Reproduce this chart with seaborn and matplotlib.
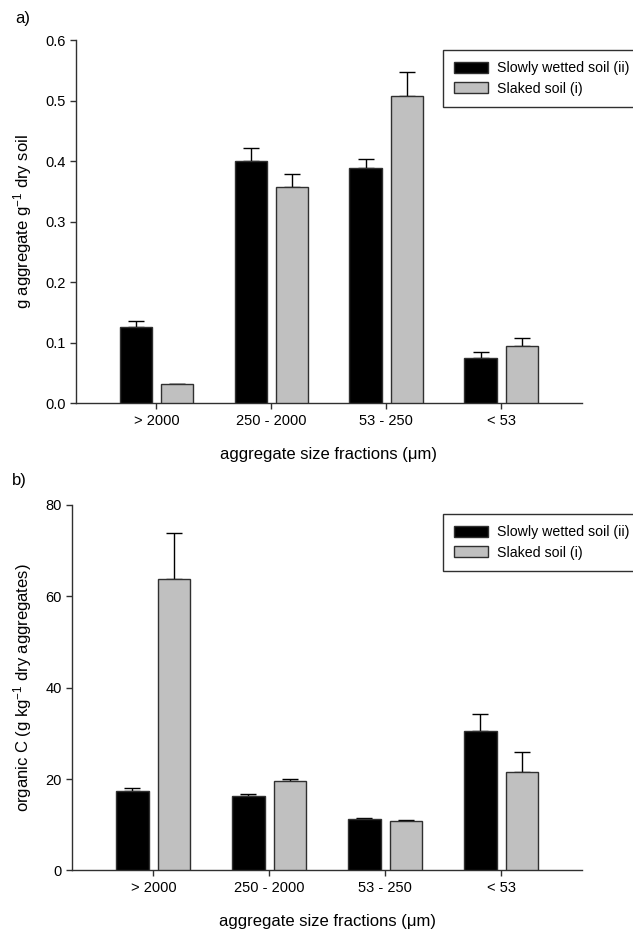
import matplotlib
matplotlib.use("Agg")
import matplotlib.pyplot as plt
import numpy as np
import pandas as pd
import seaborn as sns

fractions = ['> 2000', '250 - 2000', '53 - 250', '< 53']
treatments = ['Slowly wetted soil (ii)', 'Slaked soil (i)']

# a) aggregate mass (g aggregate / g dry soil)
mass_wet = [0.125, 0.400, 0.388, 0.074]
mass_wet_err = [0.010, 0.022, 0.015, 0.011]
mass_slaked = [0.032, 0.357, 0.508, 0.095]
mass_slaked_err = [0.0, 0.022, 0.040, 0.013]

# b) organic C (g/kg dry aggregates)
oc_wet = [17.3, 16.3, 11.2, 30.6]
oc_wet_err = [0.8, 0.4, 0.3, 3.6]
oc_slaked = [63.7, 19.6, 10.9, 21.5]
oc_slaked_err = [10.0, 0.4, 0.1, 4.5]

sns.set_style("ticks")
plt.rcParams['font.family'] = ['Liberation Sans', 'DejaVu Sans']
plt.rcParams['mathtext.fontset'] = 'custom'
plt.rcParams['mathtext.rm'] = 'Liberation Sans'
plt.rcParams['mathtext.it'] = 'Liberation Sans:italic'
plt.rcParams['text.color'] = 'black'
plt.rcParams['axes.labelcolor'] = 'black'

edge = '#303030'
colors = ['#000000', '#c0c0c0']


def long_table(v1, v2):
    return pd.DataFrame({
        'fraction': fractions * 2,
        'treatment': [treatments[0]] * 4 + [treatments[1]] * 4,
        'value': list(v1) + list(v2),
    })


def panel(ax, df, errs, ylim, yticks, yfmt, ylabel):
    sns.barplot(data=df, x='fraction', y='value', hue='treatment',
                order=fractions, hue_order=treatments, palette=colors,
                width=0.72, gap=0.22, errorbar=None, edgecolor=edge,
                linewidth=1.0, saturation=1, ax=ax, zorder=3)
    for cont, err in zip(ax.containers, errs):
        xs = [b.get_x() + b.get_width() / 2 for b in cont]
        ys = [b.get_height() for b in cont]
        ax.errorbar(xs, ys, yerr=[np.zeros(len(err)), err], fmt='none',
                    ecolor='black', elinewidth=1.0, capsize=6, capthick=1.0,
                    zorder=2)
    ax.set_xlim(-0.7, 3.7)
    ax.set_ylim(*ylim)
    ax.set_yticks(yticks)
    ax.set_yticklabels([yfmt.format(t) for t in yticks])
    ax.set_xlabel('aggregate size fractions (μm)', fontsize=12, labelpad=14)
    ax.set_ylabel(ylabel, fontsize=12, labelpad=8)
    ax.tick_params(axis='both', labelsize=10.5, length=4, width=1.0,
                   color=edge, labelcolor='black', direction='out')
    for s in ['top', 'right']:
        ax.spines[s].set_visible(False)
    for s in ['left', 'bottom']:
        ax.spines[s].set_color(edge)
        ax.spines[s].set_linewidth(1.0)
    leg = ax.get_legend()
    if leg is not None:
        leg.remove()
    handles = [plt.Rectangle((0, 0), 1, 1, facecolor=c, edgecolor=edge,
                             linewidth=1.0) for c in colors]
    return handles


fig = plt.figure(figsize=(6.33, 9.31), dpi=100)
ax1 = fig.add_axes([0.120, 0.567, 0.799, 0.390])
ax2 = fig.add_axes([0.114, 0.065, 0.806, 0.393])

h = panel(ax1, long_table(mass_wet, mass_slaked), [mass_wet_err, mass_slaked_err],
          (0, 0.6), [0, 0.1, 0.2, 0.3, 0.4, 0.5, 0.6], '{:.1f}',
          r'g aggregate g$^{-1}$ dry soil')
panel(ax2, long_table(oc_wet, oc_slaked), [oc_wet_err, oc_slaked_err],
      (0, 80), [0, 20, 40, 60, 80], '{:.0f}',
      r'organic C (g kg$^{-1}$ dry aggregates)')

for ypos in [1 - 50 / 931, 1 - 514 / 931]:
    fig.legend(h, treatments, loc='upper left', bbox_to_anchor=(443 / 633, ypos),
               fontsize=10.2, frameon=True, fancybox=False, edgecolor=edge,
               framealpha=1, handlelength=2.4, handleheight=0.85,
               borderpad=0.8, labelspacing=0.45, handletextpad=0.6,
               borderaxespad=0)

fig.text(15 / 633, 1 - 18 / 931, 'a)', fontsize=12, va='center', ha='left')
fig.text(12 / 633, 1 - 480 / 931, 'b)', fontsize=12, va='center', ha='left')

fig.savefig('out.png', dpi=100, facecolor='white')
